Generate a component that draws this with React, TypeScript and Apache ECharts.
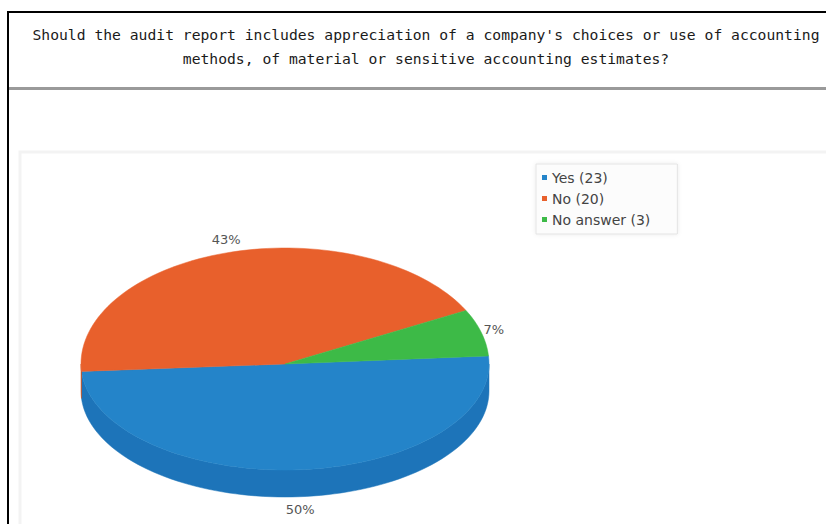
import React, { useEffect, useRef } from "react";
import * as echarts from "echarts";

const TITLE_LINES = [
  "Should the audit report includes appreciation of a company's choices or use of accounting",
  "methods, of material or sensitive accounting estimates?",
];
const categories = ["Yes", "No", "No answer"];
const counts = [23, 20, 3];
const topColors = ["#2484c9", "#e8602c", "#3dba47"];
const sideColors = ["#1d74b9", "#c9511f", "#2f9c39"];

export default function App() {
  const ref = useRef<HTMLDivElement>(null);

  useEffect(() => {
    const chart = echarts.init(ref.current!, null, { renderer: "svg" });
    const total = counts.reduce((a, b) => a + b, 0);
    const START = -4;
    const starts: number[] = [];
    let acc = 0;
    counts.forEach((v) => {
      starts.push(START + (acc / total) * 360);
      acc += v;
    });

    const CX = 285, CY = 364, RX = 204, RY_BACK = 116, RY_FRONT = 106, DEPTH = 27;
    const pt = (deg: number, dy = 0, grow = 0) => {
      const r = (deg * Math.PI) / 180;
      const s = Math.sin(r);
      const ry = s > 0 ? RY_FRONT : RY_BACK;
      return [CX + (RX + grow) * Math.cos(r), CY + (ry + grow) * s + dy];
    };
    const arc = (a0: number, a1: number, dy = 0) => {
      const pts: number[][] = [];
      const n = Math.max(2, Math.ceil(Math.abs(a1 - a0) / 2));
      for (let i = 0; i <= n; i++) pts.push(pt(a0 + ((a1 - a0) * i) / n, dy));
      return pts;
    };

    const pieSeries: any = {
      type: "custom",
      name: "pie3d",
      coordinateSystem: "none",
      silent: true,
      data: counts.map((v, i) => ({ name: categories[i], value: v })),
      renderItem: (params: any, api: any) => {
        const i = params.dataIndex;
        const v = api.value(0);
        const a0 = starts[i];
        const a1 = a0 + (v / total) * 360;
        const children: any[] = [];
        const s = Math.max(a0, 0), e = Math.min(a1, 180);
        if (e > s) {
          children.push({
            type: "polygon",
            shape: { points: [...arc(s, e), ...arc(e, s, DEPTH)] },
            style: { fill: sideColors[i], stroke: sideColors[i], lineWidth: 0.5 },
          });
        }
        children.push({
          type: "polygon",
          shape: { points: [[CX, CY], ...arc(a0, a1)] },
          style: { fill: topColors[i], stroke: topColors[i], lineWidth: 0.5 },
        });
        const m = (a0 + a1) / 2;
        const front = Math.sin((m * Math.PI) / 180) > 0.3;
        const [lx, ly] = pt(m, front ? DEPTH : 0, 13);
        children.push({
          type: "text",
          style: {
            x: lx,
            y: ly,
            text: Math.round((v / total) * 100) + "%",
            fill: "#555",
            font: "13px 'DejaVu Sans', sans-serif",
            textAlign: "center",
            textVerticalAlign: "middle",
          },
        });
        return { type: "group", children };
      },
    };

    const legendSeries = categories.map((c, i) => ({
      type: "custom",
      name: `${c} (${counts[i]})`,
      coordinateSystem: "none",
      data: [],
      renderItem: () => null,
      itemStyle: { color: topColors[i] },
    }));

    chart.setOption({
      animation: false,
      backgroundColor: "#ffffff",
      legend: {
        orient: "vertical",
        left: 536,
        top: 164,
        icon: "rect",
        itemWidth: 5,
        itemHeight: 5,
        itemGap: 6,
        padding: [6, 27, 7, 6],
        backgroundColor: "#fcfcfc",
        borderColor: "#e4e4e4",
        borderWidth: 1,
        shadowBlur: 4,
        shadowColor: "rgba(0,0,0,0.08)",
        textStyle: { fontSize: 14, color: "#444", fontFamily: "'DejaVu Sans', sans-serif", lineHeight: 15 },
        data: legendSeries.map((s) => s.name),
      },
      graphic: [
        {
          type: "rect",
          shape: { x: 20, y: 152, width: 900, height: 500 },
          style: { fill: "none", stroke: "#f3f3f3", lineWidth: 3 },
          silent: true,
        },
        {
          type: "rect",
          shape: { x: 8, y: 12, width: 900, height: 600 },
          style: { fill: "none", stroke: "#000", lineWidth: 2 },
          silent: true,
        },
        {
          type: "line",
          shape: { x1: 9, y1: 88.5, x2: 826, y2: 88.5 },
          style: { stroke: "#9a9a9a", lineWidth: 3 },
          silent: true,
        },
        {
          type: "text",
          style: {
            x: 426,
            y: 46,
            text: TITLE_LINES.join("\n"),
            font: "14.7px 'DejaVu Sans Mono', monospace",
            lineHeight: 24,
            fill: "#1a1a1a",
            textAlign: "center",
            textVerticalAlign: "middle",
          },
          silent: true,
        },
      ],
      series: [pieSeries, ...legendSeries],
    });
    return () => chart.dispose();
  }, []);

  return (
    <div
      ref={ref}
      style={{ position: "fixed", left: 0, top: 0, width: 826, height: 524, background: "#fff" }}
    />
  );
}
